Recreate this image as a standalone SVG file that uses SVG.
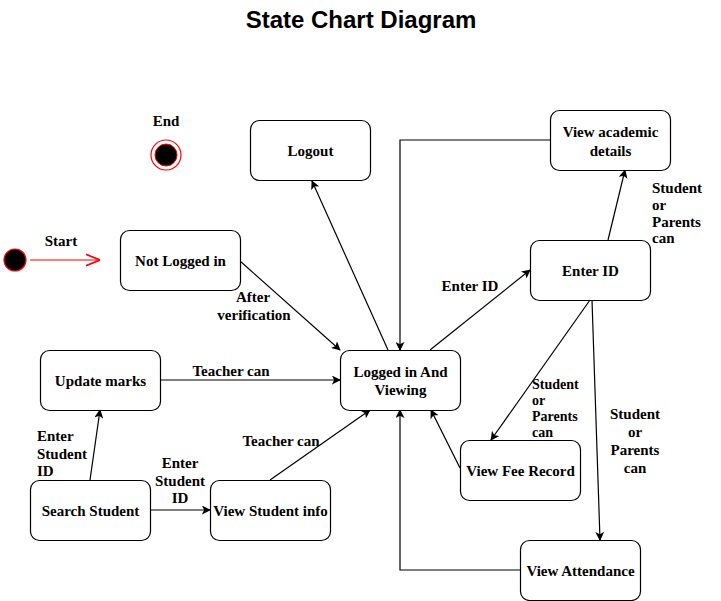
<svg xmlns="http://www.w3.org/2000/svg" width="721" height="601" viewBox="0 0 721 601">
<defs>
<style>
.node rect{fill:#fff;stroke:#000;stroke-width:1.2}
.lbl{font-family:"Liberation Serif","Times New Roman",serif;font-weight:bold;font-size:15px;fill:#000}
.c{text-anchor:middle}
.e{fill:none;stroke:#000;stroke-width:1.2;marker-end:url(#arr)}
.title{font-family:"Liberation Sans",Arial,sans-serif;font-weight:bold;font-size:24px;text-anchor:middle}
</style>
<marker id="arr" viewBox="0 0 10 10" refX="9" refY="5" markerWidth="9" markerHeight="9" markerUnits="userSpaceOnUse" orient="auto">
<path d="M0,0 L10,5 L0,10 L2.5,5 Z" fill="#000"/>
</marker>
<marker id="open" viewBox="0 0 10 10" refX="10" refY="5" markerWidth="14" markerHeight="14" markerUnits="userSpaceOnUse" orient="auto">
<path d="M0,1 L10,5 L0,9" fill="none" stroke="#f00" stroke-width="1.2"/>
</marker>
</defs>
<rect width="721" height="601" fill="#fff"/>
<text class="title" x="361" y="28">State Chart Diagram</text>

<g id="connectors">
<path d="M30,260 L100,260" fill="none" stroke="#f00" stroke-width="1.2" marker-end="url(#open)"/>
<path class="e" d="M240,261 L340,350"/>
<path class="e" d="M388,350 L312,181"/>
<path class="e" d="M550,140 L400,140 L400,350"/>
<path class="e" d="M430,350 L530,270"/>
<path class="e" d="M608,240 L625,170"/>
<path class="e" d="M590,300 L491,440"/>
<path class="e" d="M592,300 L600,540"/>
<path class="e" d="M460,468 L431,410"/>
<path class="e" d="M520,570 L400,570 L400,410"/>
<path class="e" d="M160,380 L340,380"/>
<path class="e" d="M90,480 L100,410"/>
<path class="e" d="M150,510 L210,510"/>
<path class="e" d="M270,480 L370,410"/>
<g class="lbl">
<text class="c" x="61" y="246">Start</text>
<text class="c" x="253" y="302">After</text>
<text class="c" x="254" y="320">verification</text>
<text class="c" x="470" y="291">Enter ID</text>
<text class="c" x="231" y="376">Teacher can</text>
<text class="c" x="281" y="446">Teacher can</text>
<text x="37" y="441">Enter</text>
<text x="37" y="459">Student</text>
<text x="37" y="476">ID</text>
<text class="c" x="180" y="468">Enter</text>
<text class="c" x="180" y="486">Student</text>
<text class="c" x="180" y="503">ID</text>
<text x="652" y="193">Student</text>
<text x="652" y="210">or</text>
<text x="652" y="227">Parents</text>
<text x="652" y="243">can</text>
<g style="font-size:14px">
<text x="532" y="389">Student</text>
<text x="532" y="405">or</text>
<text x="532" y="421">Parents</text>
<text x="532" y="437">can</text>
</g>
<text class="c" x="635" y="419">Student</text>
<text class="c" x="635" y="437">or</text>
<text class="c" x="635" y="455">Parents</text>
<text class="c" x="635" y="473">can</text>
</g>
</g>

<g id="start">
<circle cx="15" cy="260" r="11" fill="#000" stroke="#f00" stroke-width="1.2"/>
</g>
<g id="end">
<circle cx="166" cy="155" r="15" fill="#fff" stroke="#f00" stroke-width="1.2"/>
<circle cx="166" cy="155" r="11" fill="#000" stroke="#f00" stroke-width="1"/>
<text class="lbl c" x="166" y="126">End</text>
</g>

<g id="not-logged-in" class="node"><rect x="120.5" y="230.5" width="120" height="60" rx="9"/><text class="lbl c" x="180.5" y="266">Not Logged in</text></g>
<g id="logout" class="node"><rect x="250.5" y="120.5" width="120" height="60" rx="9"/><text class="lbl c" x="310.5" y="156">Logout</text></g>
<g id="view-academic" class="node"><rect x="550.5" y="110.5" width="120" height="60" rx="9"/><text class="lbl c" x="610.5" y="137">View academic</text><text class="lbl c" x="610.5" y="156">details</text></g>
<g id="enter-id" class="node"><rect x="530.5" y="240.5" width="120" height="60" rx="9"/><text class="lbl c" x="590.5" y="276">Enter ID</text></g>
<g id="logged-in" class="node"><rect x="340.5" y="350.5" width="120" height="60" rx="9"/><text class="lbl c" x="400.5" y="377">Logged in And</text><text class="lbl c" x="400.5" y="395">Viewing</text></g>
<g id="view-fee" class="node"><rect x="460.5" y="440.5" width="120" height="60" rx="9"/><text class="lbl c" x="520.5" y="476">View Fee Record</text></g>
<g id="view-attendance" class="node"><rect x="520.5" y="540.5" width="120" height="60" rx="9"/><text class="lbl c" x="580.5" y="576">View Attendance</text></g>
<g id="update-marks" class="node"><rect x="40.5" y="350.5" width="120" height="60" rx="9"/><text class="lbl c" x="100.5" y="386">Update marks</text></g>
<g id="search-student" class="node"><rect x="30.5" y="480.5" width="120" height="60" rx="9"/><text class="lbl c" x="90.5" y="516">Search Student</text></g>
<g id="view-student-info" class="node"><rect x="210.5" y="480.5" width="120" height="60" rx="9"/><text class="lbl c" x="270.5" y="516">View Student info</text></g>
</svg>
